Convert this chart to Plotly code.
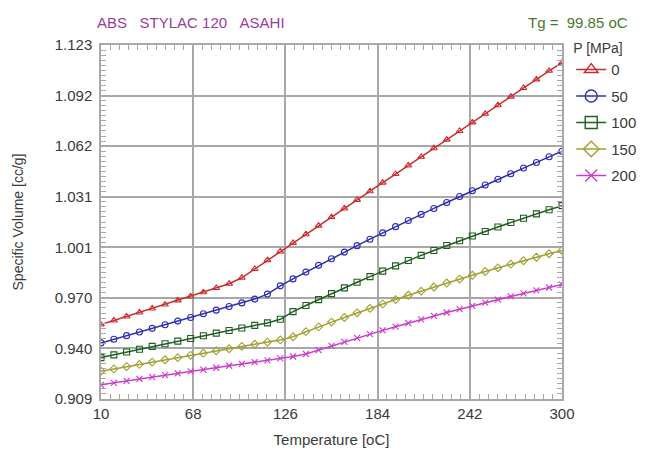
import plotly.graph_objects as go

# Temperatures (oC) of the plotted points
temperature = [10.0, 18.1, 26.1, 34.2, 42.2, 50.3, 58.3, 66.4, 74.4, 82.5, 90.6, 98.6,
               106.7, 114.7, 122.8, 130.8, 138.9, 146.9, 155.0, 163.1, 171.1, 179.2,
               187.2, 195.3, 203.3, 211.4, 219.4, 227.5, 235.6, 243.6, 251.7, 259.7,
               267.8, 275.8, 283.9, 291.9, 300.0]

# Specific volume (cc/g) per pressure
v_0 = [0.9540, 0.9565, 0.9589, 0.9613, 0.9637, 0.9661, 0.9686, 0.9710, 0.9735, 0.9761,
       0.9787, 0.9823, 0.9876, 0.9929, 0.9982, 1.0034, 1.0086, 1.0138, 1.0190, 1.0242,
       1.0294, 1.0346, 1.0398, 1.0450, 1.0502, 1.0554, 1.0606, 1.0658, 1.0710, 1.0762,
       1.0814, 1.0866, 1.0918, 1.0970, 1.1022, 1.1074, 1.1124]
v_50 = [0.9429, 0.9451, 0.9473, 0.9495, 0.9517, 0.9539, 0.9561, 0.9583, 0.9605, 0.9627,
        0.9649, 0.9671, 0.9694, 0.9724, 0.9774, 0.9816, 0.9857, 0.9898, 0.9938, 0.9978,
        1.0017, 1.0056, 1.0094, 1.0132, 1.0169, 1.0206, 1.0242, 1.0278, 1.0314, 1.0349,
        1.0384, 1.0418, 1.0452, 1.0486, 1.0520, 1.0554, 1.0588]
v_100 = [0.9340, 0.9357, 0.9374, 0.9391, 0.9408, 0.9424, 0.9440, 0.9456, 0.9472, 0.9488,
         0.9504, 0.9519, 0.9535, 0.9550, 0.9572, 0.9618, 0.9655, 0.9691, 0.9727, 0.9762,
         0.9796, 0.9830, 0.9863, 0.9895, 0.9927, 0.9958, 0.9988, 1.0018, 1.0047, 1.0075,
         1.0103, 1.0130, 1.0157, 1.0183, 1.0209, 1.0234, 1.0259]
v_150 = [0.9258, 0.9272, 0.9286, 0.9299, 0.9313, 0.9327, 0.9340, 0.9354, 0.9367, 0.9381,
         0.9394, 0.9408, 0.9421, 0.9434, 0.9447, 0.9466, 0.9497, 0.9526, 0.9555, 0.9583,
         0.9611, 0.9638, 0.9665, 0.9691, 0.9717, 0.9742, 0.9767, 0.9791, 0.9815, 0.9838,
         0.9861, 0.9883, 0.9905, 0.9926, 0.9947, 0.9968, 0.9988]
v_200 = [0.9176, 0.9188, 0.9199, 0.9211, 0.9222, 0.9234, 0.9245, 0.9257, 0.9268, 0.9279,
         0.9291, 0.9302, 0.9313, 0.9324, 0.9336, 0.9347, 0.9362, 0.9386, 0.9411, 0.9435,
         0.9459, 0.9482, 0.9505, 0.9527, 0.9549, 0.9571, 0.9592, 0.9613, 0.9633, 0.9653,
         0.9672, 0.9691, 0.9710, 0.9728, 0.9746, 0.9764, 0.9782]

pressures = ["0", "50", "100", "150", "200"]
x_ticks = [10, 68, 126, 184, 242, 300]
y_tick_labels = ["0.909", "0.940", "0.970", "1.001", "1.031", "1.062", "1.092", "1.123"]
y_min, y_max = float(y_tick_labels[0]), float(y_tick_labels[-1])

series = [v_0, v_50, v_100, v_150, v_200]
colors = ["#cc2b2b", "#2e2eb4", "#1f5f1f", "#a0a030", "#cc3ccc"]
symbols = ["triangle-up-open", "circle-open", "square-open", "diamond-open", "x-thin-open"]

FONT = "Liberation Sans, Arial, sans-serif"
TXT = "#3a3a3a"
GRID = "#a8a8a8"

fig = go.Figure()
for p, vals, c, s in zip(pressures, series, colors, symbols):
    fig.add_trace(go.Scatter(
        x=temperature, y=vals, mode="lines+markers",
        line=dict(color=c, width=1.5),
        marker=dict(symbol=s, size=6, color=c, line=dict(color=c, width=1.1)),
        showlegend=False, hoverinfo="skip"))
    fig.add_trace(go.Scatter(
        x=[None], y=[None], mode="lines+markers", name=p, legendgroup=p,
        line=dict(color=c, width=1.5),
        marker=dict(symbol=s, size=12, color=c, line=dict(color=c, width=1.4))))

# empty trace so the overlay (minor-tick) axes are rendered
fig.add_trace(go.Scatter(x=[None], y=[None], xaxis="x2", yaxis="y2",
                         showlegend=False, hoverinfo="skip"))

n_y = len(y_tick_labels) - 1
x_major = x_ticks[1] - x_ticks[0]
y_major = (y_max - y_min) / n_y

axis_common = dict(
    showgrid=True, gridcolor=GRID, gridwidth=1.5,
    showline=True, linecolor=GRID, linewidth=1.5, mirror=True,
    zeroline=False, tickmode="linear", ticks="", automargin=False,
    tickfont=dict(family=FONT, size=15, color=TXT),
)

fig.update_layout(
    xaxis=dict(
        **axis_common, range=[x_ticks[0], x_ticks[-1]],
        tick0=x_ticks[0], dtick=x_major,
        title=dict(text="Temperature [oC]", font=dict(family=FONT, size=15, color=TXT), standoff=14),
    ),
    yaxis=dict(
        **axis_common, range=[y_min, y_max],
        tick0=y_min, dtick=y_major, tickformat=".3f", ticklabelstandoff=4,
        title=dict(text="Specific Volume [cc/g]", font=dict(family=FONT, size=14, color=TXT), standoff=28),
    ),
    xaxis2=dict(
        overlaying="x", anchor="y", side="bottom", range=[x_ticks[0], x_ticks[-1]],
        tickmode="linear", tick0=x_ticks[0], dtick=x_major / 10,
        ticks="inside", ticklen=5, tickwidth=1, tickcolor=GRID, mirror="ticks",
        showticklabels=False, showgrid=False, zeroline=False, showline=False, automargin=False,
    ),
    yaxis2=dict(
        overlaying="y", anchor="x", side="left", range=[y_min, y_max],
        tickmode="linear", tick0=y_min, dtick=y_major / 10,
        ticks="inside", ticklen=5, tickwidth=1, tickcolor=GRID, mirror="ticks",
        showticklabels=False, showgrid=False, zeroline=False, showline=False, automargin=False,
    ),
)

fig.update_layout(
    width=646, height=456,
    margin=dict(l=93, r=76, t=37, b=65),
    paper_bgcolor="white", plot_bgcolor="white",
    font=dict(family=FONT, color=TXT),
    legend=dict(
        title=dict(text="P [MPa]", font=dict(size=14, color=TXT)),
        x=1.02, xanchor="left", y=1.028, yanchor="top",
        font=dict(size=15, color=TXT),
        itemwidth=30, tracegroupgap=4, traceorder="grouped",
        bgcolor="rgba(0,0,0,0)",
    ),
    annotations=[
        dict(text="ABS\u00a0\u00a0\u00a0STYLAC 120\u00a0\u00a0\u00a0ASAHI", xref="paper", yref="paper",
             x=-0.012, y=1.0, yshift=23, xanchor="left", yanchor="middle", showarrow=False,
             font=dict(family=FONT, size=15, color="#9c3c9c")),
        dict(text="Tg =\u00a0 99.85 oC", xref="paper", yref="paper",
             x=1.147, y=1.0, yshift=23, xanchor="right", yanchor="middle", showarrow=False,
             font=dict(family=FONT, size=15, color="#4a7a2a")),
    ],
)

fig.write_html("out.html")
